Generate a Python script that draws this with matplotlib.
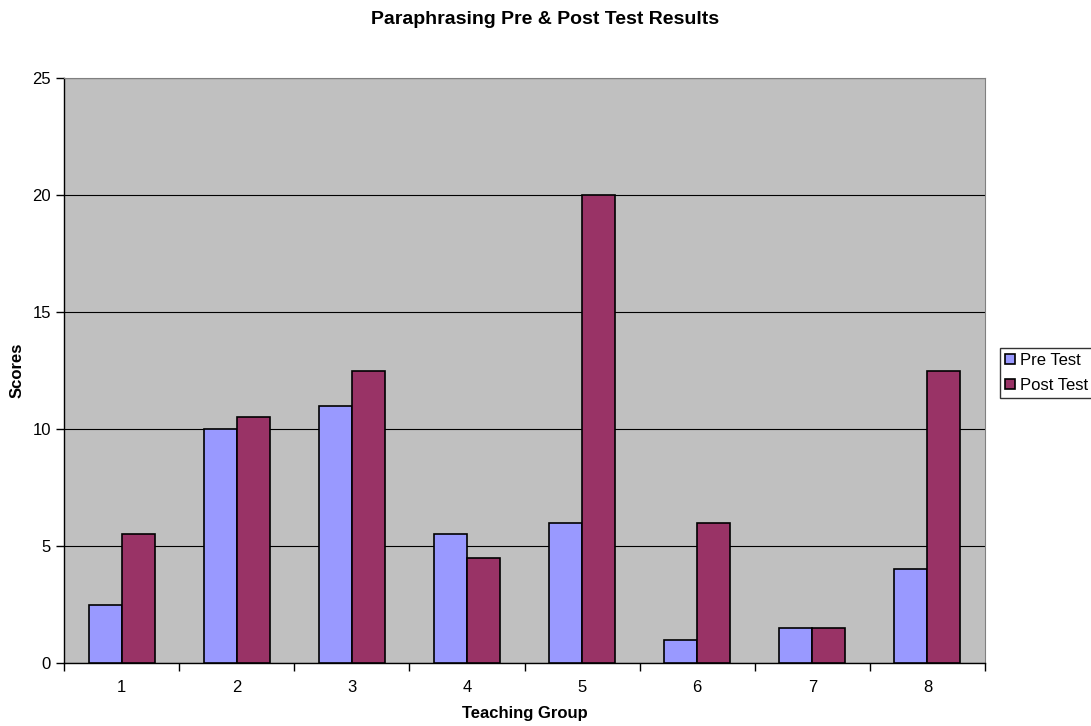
import matplotlib
matplotlib.use("Agg")
import matplotlib.pyplot as plt
import numpy as np

groups = ["1", "2", "3", "4", "5", "6", "7", "8"]
pre_test = [2.5, 10, 11, 5.5, 6, 1, 1.5, 4]
post_test = [5.5, 10.5, 12.5, 4.5, 20, 6, 1.5, 12.5]

plt.rcParams["font.family"] = ["Liberation Sans", "DejaVu Sans"]

fig = plt.figure(figsize=(10.91, 7.26), dpi=100)
ax = fig.add_axes([64 / 1091, 63 / 726, 921 / 1091, 585 / 726])
ax.set_facecolor("#C0C0C0")

x = np.arange(len(groups))
w = 0.287
ax.bar(x - w / 2, pre_test, width=w, color="#9999FF", edgecolor="black",
       linewidth=1.2, label="Pre Test", zorder=3)
ax.bar(x + w / 2, post_test, width=w, color="#993366", edgecolor="black",
       linewidth=1.2, label="Post Test", zorder=3)

ax.set_xlim(-0.5, len(groups) - 0.5)
ax.set_ylim(0, 25)
ax.set_yticks([0, 5, 10, 15, 20, 25])
ax.yaxis.grid(True, color="black", linewidth=0.8, zorder=1)
ax.set_axisbelow(True)

# category labels centred, tick marks on the boundaries
ax.set_xticks(x)
ax.set_xticklabels(groups, fontsize=12)
ax.tick_params(axis="x", which="major", length=0, pad=12)
ax.set_xticks(np.arange(-0.5, len(groups)), minor=True)
ax.tick_params(axis="x", which="minor", length=6, width=1, direction="out")
ax.tick_params(axis="y", length=6, width=1, direction="out", labelsize=12)

for s in ["top", "right"]:
    ax.spines[s].set_color("#808080")
for s in ["left", "bottom"]:
    ax.spines[s].set_color("black")
    ax.spines[s].set_linewidth(1.0)

ax.set_xlabel("Teaching Group", fontsize=12, fontweight="bold", labelpad=8)
fig.text(17 / 1091, 1 - 370 / 726, "Scores", rotation=90, ha="center",
         va="center", fontsize=12, fontweight="bold")
fig.text(0.5, 1 - 20 / 726, "Paraphrasing Pre & Post Test Results",
         ha="center", va="center", fontsize=14, fontweight="bold")

leg = ax.legend(loc="center left", bbox_to_anchor=(1000 / 1091, 1 - 373 / 726),
                bbox_transform=fig.transFigure, fontsize=12, frameon=True,
                fancybox=False, edgecolor="black", handlelength=0.6,
                handleheight=0.6, handletextpad=0.3, borderpad=0.3,
                labelspacing=0.6, borderaxespad=0)
leg.get_frame().set_linewidth(1.0)

fig.savefig("out.png", dpi=100)
